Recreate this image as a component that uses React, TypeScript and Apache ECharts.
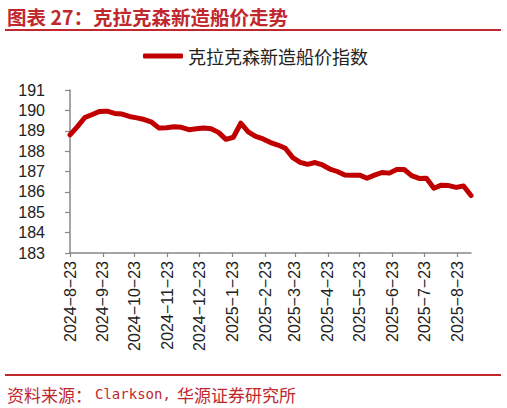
import React, { useEffect, useRef } from 'react';
import * as echarts from 'echarts';

const seriesName = '克拉克森新造船价指数';

const weekDates = [
  '2024-8-23', '2024-8-30', '2024-9-6', '2024-9-13', '2024-9-20', '2024-9-27',
  '2024-10-4', '2024-10-11', '2024-10-18', '2024-10-25', '2024-11-1', '2024-11-8',
  '2024-11-15', '2024-11-22', '2024-11-29', '2024-12-6', '2024-12-13', '2024-12-20',
  '2024-12-27', '2025-1-3', '2025-1-10', '2025-1-17', '2025-1-24', '2025-1-31',
  '2025-2-7', '2025-2-14', '2025-2-21', '2025-2-28', '2025-3-7', '2025-3-14',
  '2025-3-21', '2025-3-28', '2025-4-4', '2025-4-11', '2025-4-18', '2025-4-25',
  '2025-5-2', '2025-5-9', '2025-5-16', '2025-5-23', '2025-5-30', '2025-6-6',
  '2025-6-13', '2025-6-20', '2025-6-27', '2025-7-4', '2025-7-11', '2025-7-18',
  '2025-7-25', '2025-8-1', '2025-8-8', '2025-8-15', '2025-8-22', '2025-8-29',
  '2025-9-5',
];

const indexValues = [
  188.8, 189.2, 189.65, 189.8, 189.95, 189.96, 189.85, 189.82, 189.7, 189.63,
  189.55, 189.42, 189.13, 189.15, 189.2, 189.17, 189.05, 189.1, 189.14, 189.1,
  188.92, 188.58, 188.68, 189.37, 188.95, 188.72, 188.6, 188.42, 188.3, 188.14,
  187.68, 187.45, 187.35, 187.44, 187.32, 187.12, 187.0, 186.83, 186.82, 186.82,
  186.67, 186.82, 186.95, 186.92, 187.1, 187.1, 186.8, 186.66, 186.67, 186.18,
  186.33, 186.31, 186.22, 186.29, 185.82,
];

const yMin = 183;
const yMax = 191;
const yInterval = 1;

const titleText = '图表 27：克拉克森新造船价走势';
const sourceParts = ['资料来源：', 'Clarkson,', '华源证券研究所'];

const RED = '#c0282d';
const LINE_RED = '#c00000';

function fmt(d: Date) {
  return `${d.getFullYear()}-${d.getMonth() + 1}-${d.getDate()}`;
}

function buildDays(start: string, end: string) {
  const [sy, sm, sd] = start.split('-').map(Number);
  const [ey, em, ed] = end.split('-').map(Number);
  const out: string[] = [];
  const d = new Date(sy, sm - 1, sd, 12);
  const e = new Date(ey, em - 1, ed, 12);
  while (d <= e) {
    out.push(fmt(d));
    d.setDate(d.getDate() + 1);
  }
  return out;
}

export default function App() {
  const ref = useRef<HTMLDivElement>(null);
  useEffect(() => {
    if (!ref.current) return;
    const chart = echarts.init(ref.current, null, { renderer: 'svg' });
    const days = buildDays(weekDates[0], weekDates[weekDates.length - 1]);
    const valueMap: Record<string, number> = {};
    weekDates.forEach((d, i) => (valueMap[d] = indexValues[i]));
    const seriesData = days.map((d) => (d in valueMap ? valueMap[d] : null));
    const is23 = (_i: number, v: string) => /-23$/.test(v);

    const sansLatin = '"Liberation Sans", Arial, sans-serif';
    const cjk = '"Noto Sans CJK SC", sans-serif';

    chart.setOption({
      animation: false,
      backgroundColor: '#ffffff',
      grid: { left: 70, right: 36, top: 90, bottom: 155, containLabel: false },
      legend: {
        left: 143,
        top: 47,
        padding: 0,
        icon: 'roundRect',
        itemWidth: 40,
        itemHeight: 5,
        itemGap: 10,
        textStyle: { fontFamily: cjk, fontSize: 18, color: '#222' },
        data: [seriesName],
      },
      xAxis: {
        type: 'category',
        boundaryGap: false,
        data: days,
        axisLine: { lineStyle: { color: '#888', width: 1.5 } },
        axisTick: { show: true, interval: is23, length: 4, lineStyle: { color: '#888', width: 1.2 } },
        axisLabel: {
          interval: is23,
          rotate: 90,
          margin: 8,
          fontFamily: sansLatin,
          fontSize: 16,
          color: '#222',
          formatter: (v: string) => v.replace(/-/g, '\u2212'),
        },
        splitLine: { show: false },
      },
      yAxis: {
        type: 'value',
        min: yMin,
        max: yMax,
        interval: yInterval,
        axisLine: { show: true, lineStyle: { color: '#888', width: 1.5 } },
        axisTick: { show: true, length: 5, lineStyle: { color: '#888', width: 1.2 } },
        axisLabel: { margin: 25, fontFamily: sansLatin, fontSize: 16, color: '#222' },
        splitLine: { show: false },
      },
      series: [
        {
          name: seriesName,
          type: 'line',
          data: seriesData,
          connectNulls: true,
          showSymbol: false,
          symbol: 'none',
          lineStyle: { color: LINE_RED, width: 5, cap: 'round', join: 'round' },
          itemStyle: { color: LINE_RED },
        },
      ],
      graphic: [
        {
          type: 'text',
          x: 7,
          y: 16,
          style: {
            text: titleText,
            font: `bold 19.5px ${cjk}`,
            fill: RED,
            textVerticalAlign: 'middle',
          },
        },
        {
          type: 'line',
          shape: { x1: 5, y1: 30, x2: 501, y2: 30 },
          style: { stroke: RED, lineWidth: 2 },
        },
        {
          type: 'line',
          shape: { x1: 5, y1: 375, x2: 501, y2: 375 },
          style: { stroke: RED, lineWidth: 2 },
        },
        {
          type: 'text',
          x: 7,
          y: 394,
          style: { text: sourceParts[0], font: `17px ${cjk}`, fill: RED, textVerticalAlign: 'middle' },
        },
        {
          type: 'text',
          x: 95,
          y: 394,
          style: { text: sourceParts[1], font: `14px "DejaVu Sans Mono", monospace`, fill: RED, textVerticalAlign: 'middle' },
        },
        {
          type: 'text',
          x: 177,
          y: 394,
          style: { text: sourceParts[2], font: `17px ${cjk}`, fill: RED, textVerticalAlign: 'middle' },
        },
      ],
    });
    return () => chart.dispose();
  }, []);
  return (
    <div
      ref={ref}
      style={{ position: 'fixed', left: 0, top: 0, width: 507, height: 408, background: '#fff' }}
    />
  );
}
